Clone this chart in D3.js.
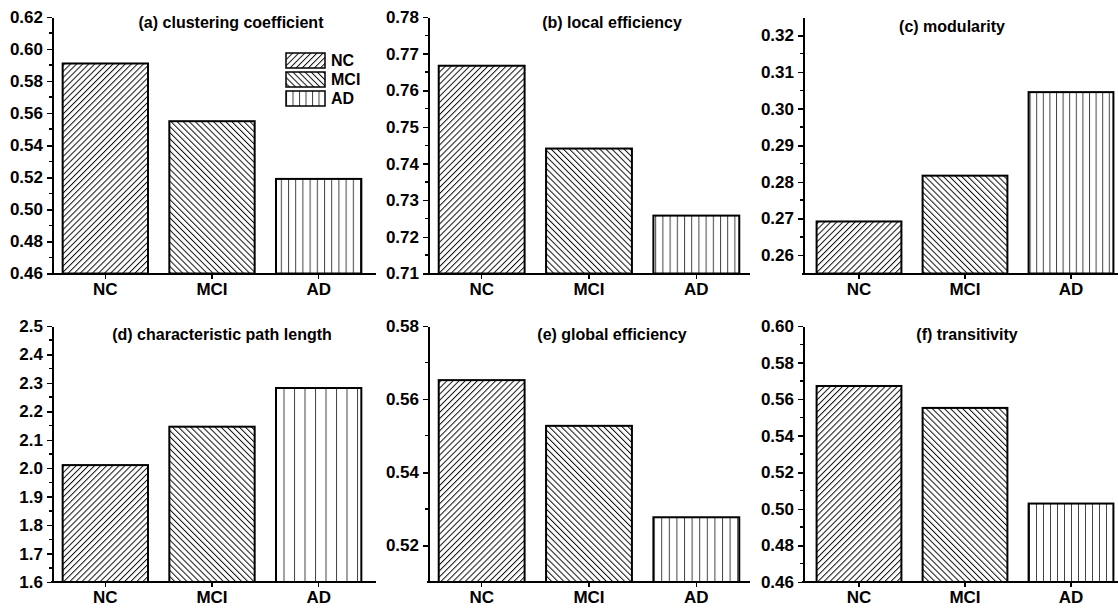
<!DOCTYPE html>
<html>
<head>
<meta charset="utf-8">
<title>Network metrics NC / MCI / AD</title>
<script src="https://d3js.org/d3.v7.min.js"></script>
<style>
    body { margin: 0; background: #fff; }
    svg { display: block; }
    text { font-family: "Liberation Sans", Arial, sans-serif; font-weight: bold; fill: #000; }
    .axis path, .axis line { stroke: #000; shape-rendering: crispEdges; }
</style>
</head>
<body>
<script>
// groups and the metric values
var groups = ["NC", "MCI", "AD"];

var clusteringCoef = [0.591, 0.555, 0.519];
var localEff = [0.7667, 0.7441, 0.7258];
var modularity = [0.2692, 0.2817, 0.3045];
var pathLength = [2.011, 2.146, 2.282];
var globalEff = [0.5652, 0.5527, 0.5277];
var transitivity = [0.5672, 0.5552, 0.5029];

var titles = ["(a) clustering coefficient", "(b) local efficiency", "(c) modularity",
    "(d) characteristic path length", "(e) global efficiency", "(f) transitivity"];

// y axis tick labels of each panel
var ticksA = [0.46, 0.48, 0.50, 0.52, 0.54, 0.56, 0.58, 0.60, 0.62];
var ticksB = [0.71, 0.72, 0.73, 0.74, 0.75, 0.76, 0.77, 0.78];
var ticksC = [0.26, 0.27, 0.28, 0.29, 0.30, 0.31, 0.32];
var ticksD = [1.6, 1.7, 1.8, 1.9, 2.0, 2.1, 2.2, 2.3, 2.4, 2.5];
var ticksE = [0.52, 0.54, 0.56, 0.58];
var ticksF = [0.46, 0.48, 0.50, 0.52, 0.54, 0.56, 0.58, 0.60];

var domains = [[0.46, 0.62], [0.71, 0.78], [0.255, 0.325], [1.6, 2.5], [0.51, 0.58], [0.46, 0.60]];

var panels = [
    { values: clusteringCoef, ticks: ticksA, fmt: ".2f" },
    { values: localEff, ticks: ticksB, fmt: ".2f" },
    { values: modularity, ticks: ticksC, fmt: ".2f" },
    { values: pathLength, ticks: ticksD, fmt: ".1f" },
    { values: globalEff, ticks: ticksE, fmt: ".2f" },
    { values: transitivity, ticks: ticksF, fmt: ".2f" }
];

// layout (pixel) settings
var cols = [
    { axisX: 52, x0: 52, x1: 372, lineEnd: 376 },
    { axisX: 428, x0: 428, x1: 750, lineEnd: 750 },
    { axisX: 803, x0: 806, x1: 1124, lineEnd: 1118 }
];
var rows = [{ top: 17, bottom: 273.5 }, { top: 326, bottom: 582 }];
var titlePos = [[231, 28], [612, 28], [952, 32], [222, 340], [612, 340], [967, 340]];
var vSpacing = [7.2, 7.2, 6.6, 10.5, 7.6, 7];

var svg = d3.select("body").append("svg")
    .attr("width", 1118)
    .attr("height", 608);

svg.append("rect").attr("width", 1118).attr("height", 608).attr("fill", "#fff");

var defs = svg.append("defs");

function hatch(id, angle, size, color) {
    var p = defs.append("pattern")
        .attr("id", id)
        .attr("patternUnits", "userSpaceOnUse")
        .attr("width", size)
        .attr("height", size)
        .attr("patternTransform", "rotate(" + angle + ")");
    p.append("rect").attr("width", size).attr("height", size).attr("fill", "#fff");
    p.append("line")
        .attr("x1", 0.5).attr("y1", 0)
        .attr("x2", 0.5).attr("y2", size)
        .attr("stroke", color)
        .attr("stroke-width", 1);
}

hatch("pat-nc", 45, 4.3, "#111");
hatch("pat-mci", -45, 4.3, "#111");
vSpacing.forEach(function (s, i) {
    hatch("pat-ad-" + i, 0, s, "#444");
});
hatch("pat-ad-leg", 0, 6.5, "#444");

function fillFor(g, i) {
    if (g === "NC") return "url(#pat-nc)";
    if (g === "MCI") return "url(#pat-mci)";
    return "url(#pat-ad-" + i + ")";
}

panels.forEach(function (p, i) {
    var col = cols[i % 3],
        row = rows[Math.floor(i / 3)];

    var x = d3.scaleBand()
        .domain(groups)
        .range([col.x0, col.x1])
        .paddingInner(0.2)
        .paddingOuter(0.1);

    var y = d3.scaleLinear()
        .domain(domains[i])
        .range([row.bottom, row.top]);

    var g = svg.append("g");

    // bars
    g.selectAll("rect.bar")
        .data(p.values)
        .enter().append("rect")
        .attr("class", "bar")
        .attr("x", function (d, k) { return x(groups[k]); })
        .attr("width", x.bandwidth())
        .attr("y", function (d) { return y(d); })
        .attr("height", function (d) { return row.bottom - y(d); })
        .attr("fill", function (d, k) { return fillFor(groups[k], i); })
        .attr("stroke", "#000")
        .attr("stroke-width", 2);

    // y axis
    var yAxis = d3.axisLeft(y)
        .tickValues(p.ticks)
        .tickFormat(d3.format(p.fmt))
        .tickSize(5)
        .tickSizeOuter(0)
        .tickPadding(4);

    var ya = g.append("g")
        .attr("class", "axis")
        .attr("transform", "translate(" + col.axisX + ",0)")
        .call(yAxis);
    ya.select(".domain").attr("stroke-width", 2);
    ya.selectAll(".tick line").attr("stroke-width", 1.5);
    ya.selectAll("text").style("font-size", "17px");

    // minor ticks half way between labels
    var minor = [];
    for (var k = 0; k < p.ticks.length - 1; k++) minor.push((p.ticks[k] + p.ticks[k + 1]) / 2);
    ya.selectAll(".minor")
        .data(minor)
        .enter().append("line")
        .attr("class", "minor")
        .attr("x1", -3).attr("x2", 0)
        .attr("y1", function (d) { return y(d); })
        .attr("y2", function (d) { return y(d); })
        .attr("stroke", "#000")
        .attr("stroke-width", 1.5);

    // x axis
    var xAxis = d3.axisBottom(x)
        .tickSize(5)
        .tickSizeOuter(0)
        .tickPadding(4);

    var xa = g.append("g")
        .attr("class", "axis")
        .attr("transform", "translate(0," + row.bottom + ")")
        .call(xAxis);
    xa.select(".domain").remove();
    xa.selectAll(".tick line").attr("stroke-width", 1.5);
    xa.selectAll("text").style("font-size", "17px");
    xa.append("line")
        .attr("x1", col.axisX - 1).attr("x2", col.lineEnd)
        .attr("y1", 0).attr("y2", 0)
        .attr("stroke", "#000")
        .attr("stroke-width", 2);

    // panel title
    g.append("text")
        .attr("x", titlePos[i][0])
        .attr("y", titlePos[i][1])
        .attr("text-anchor", "middle")
        .style("font-size", "16px")
        .text(titles[i]);
});

// legend in panel (a)
var legendFill = ["url(#pat-nc)", "url(#pat-mci)", "url(#pat-ad-leg)"];
var leg = svg.append("g").attr("transform", "translate(286,53)");
var li = leg.selectAll("g")
    .data(groups)
    .enter().append("g")
    .attr("transform", function (d, k) { return "translate(0," + (k * 19) + ")"; });
li.append("rect")
    .attr("width", 39)
    .attr("height", 15)
    .attr("fill", function (d, k) { return legendFill[k]; })
    .attr("stroke", "#000")
    .attr("stroke-width", 1.5);
li.append("text")
    .attr("x", 45)
    .attr("y", 7.5)
    .attr("dy", "0.36em")
    .style("font-size", "16px")
    .text(function (d) { return d; });
</script>
</body>
</html>
